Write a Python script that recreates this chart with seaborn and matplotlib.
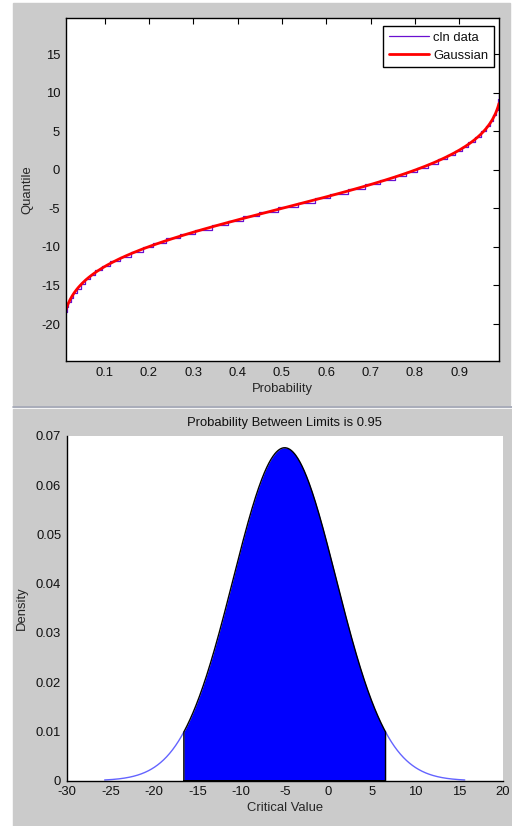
import numpy as np
import matplotlib
matplotlib.use("Agg")
import matplotlib.pyplot as plt
from matplotlib.patches import Rectangle
from matplotlib.lines import Line2D
import seaborn as sns
from statistics import NormalDist

sns.set_theme(style="white")
plt.rcParams['font.family'] = ['Liberation Sans', 'DejaVu Sans']
plt.rcParams['font.size'] = 9.4
plt.rcParams['text.color'] = '#111111'

# Empirical quantile function of the cleaned data: probability where each level starts
cln_prob = [0.0125, 0.0144, 0.0185, 0.0237, 0.0300, 0.0376, 0.0467, 0.0565,
            0.0665, 0.0790, 0.0940, 0.1120, 0.1350, 0.1600, 0.1860, 0.2100,
            0.2390, 0.2700, 0.3040, 0.3420, 0.3780, 0.4130, 0.4490, 0.4920,
            0.5370, 0.5750, 0.6090, 0.6500, 0.6880, 0.7210, 0.7540, 0.7790,
            0.8050, 0.8290, 0.8520, 0.8720, 0.8900, 0.9050, 0.9200, 0.9350,
            0.9500, 0.9595, 0.9690, 0.9766, 0.9827, 0.9862, 0.9882, 0.9892]
cln_quantile = [-18.4, -17.8, -17.2, -16.6, -16.0, -15.4, -14.8, -14.2,
                -13.65, -13.05, -12.45, -11.85, -11.25, -10.65, -10.05, -9.45,
                -8.9, -8.3, -7.75, -7.1, -6.6, -6.05, -5.45, -4.85,
                -4.25, -3.7, -3.15, -2.5, -1.9, -1.35, -0.8, -0.3,
                0.25, 0.8, 1.35, 1.9, 2.45, 3.0, 3.6, 4.3,
                5.0, 5.7, 6.4, 7.1, 7.8, 8.5, 9.2, 9.8]
prob_range = (0.0125, 0.9895)

# Fitted Gaussian
fit_mean = -5.0
fit_sd = 5.9
prob_between = 0.95

prob_ticks = [0.1, 0.2, 0.3, 0.4, 0.5, 0.6, 0.7, 0.8, 0.9]
quantile_ticks = [-20, -15, -10, -5, 0, 5, 10, 15]
value_ticks = [-30, -25, -20, -15, -10, -5, 0, 5, 10, 15, 20]
density_ticks = [0, 0.01, 0.02, 0.03, 0.04, 0.05, 0.06, 0.07]
density_ticklabels = ['0', '0.01', '0.02', '0.03', '0.04', '0.05', '0.06', '0.07']

W, H = 512, 826
fig = plt.figure(figsize=(W / 100, H / 100), dpi=100)
fig.patch.set_facecolor('white')

panel_gray = '#cbcbcb'
fig.patches.append(Rectangle((13 / W, 1 - 405 / H), (510 - 13) / W, (405 - 3) / H,
                             transform=fig.transFigure, color=panel_gray, zorder=-10))
fig.patches.append(Rectangle((13 / W, 0), (W - 13) / W, (H - 409) / H,
                             transform=fig.transFigure, color=panel_gray, zorder=-10))
fig.lines.append(Line2D([13 / W, 1], [1 - 406.5 / H] * 2, transform=fig.transFigure,
                        color='#9a9eae', lw=1.2))


def px_axes(x0, y0, x1, y1):
    return fig.add_axes([x0 / W, 1 - y1 / H, (x1 - x0) / W, (y1 - y0) / H])


# ---- Quantile plot ----
ax1 = px_axes(65.7, 18, 499, 361)
ax1.set_facecolor('white')

step_x = cln_prob + [prob_range[1]]
step_y = cln_quantile + [cln_quantile[-1]]
sns.lineplot(x=step_x, y=step_y, ax=ax1, drawstyle='steps-post', color='#6a10d0',
             lw=0.9, estimator=None, sort=False, label='cln data')

dist = NormalDist(fit_mean, fit_sd)
p_grid = np.linspace(prob_range[0], prob_range[1], 400)
q_grid = [dist.inv_cdf(p) for p in p_grid]
sns.lineplot(x=p_grid, y=q_grid, ax=ax1, color='#ff0000', lw=2,
             estimator=None, sort=False, label='Gaussian')

ax1.set_xlim(*prob_range)
ax1.set_ylim(-24.8, 19.7)
ax1.set_xticks(prob_ticks)
ax1.set_xticklabels([f'{t:g}' for t in prob_ticks])
ax1.set_yticks(quantile_ticks)
ax1.set_yticklabels([str(t) for t in quantile_ticks])
ax1.tick_params(direction='in', length=4, width=0.8, top=True, right=True,
                colors='black', labelcolor='#111111', pad=4, labelsize=9.4)
for s in ax1.spines.values():
    s.set_visible(True)
    s.set_color('black')
    s.set_linewidth(1.0)
ax1.set_xlabel('Probability', labelpad=3, fontsize=9.4)
ax1.set_ylabel('Quantile', labelpad=6, fontsize=9.4)

leg = ax1.legend(loc='upper right', bbox_to_anchor=(0.989, 0.9776), borderaxespad=0,
                 frameon=True, fancybox=False, framealpha=1, edgecolor='black',
                 handlelength=3.1, handletextpad=0.3, labelspacing=0.44,
                 borderpad=0.45, fontsize=9.4)
leg.get_frame().set_linewidth(1.0)

# ---- Density with central probability region ----
ax2 = px_axes(66.7, 436, 502.7, 780.7)
ax2.set_facecolor('white')

z = NormalDist().inv_cdf(0.5 + prob_between / 2)
lo, hi = fit_mean - z * fit_sd, fit_mean + z * fit_sd
x_all = np.linspace(fit_mean - 3.5 * fit_sd, fit_mean + 3.5 * fit_sd, 600)
y_all = np.array([dist.pdf(v) for v in x_all])

left = x_all <= lo
right = x_all >= hi
sns.lineplot(x=np.append(x_all[left], lo), y=np.append(y_all[left], dist.pdf(lo)),
             ax=ax2, color='#6464ff', lw=1.0, estimator=None, sort=False)
sns.lineplot(x=np.insert(x_all[right], 0, hi), y=np.insert(y_all[right], 0, dist.pdf(hi)),
             ax=ax2, color='#6464ff', lw=1.0, estimator=None, sort=False)

x_mid = np.linspace(lo, hi, 400)
y_mid = np.array([dist.pdf(v) for v in x_mid])
ax2.fill_between(x_mid, 0, y_mid, color='#0000ff', lw=0, zorder=2)
outline_x = np.concatenate([[lo], x_mid, [hi, lo]])
outline_y = np.concatenate([[0], y_mid, [0, 0]])
sns.lineplot(x=outline_x, y=outline_y, ax=ax2, color='black', lw=1.0,
             estimator=None, sort=False, zorder=3)

ax2.set_xlim(-30, 20)
ax2.set_ylim(0, 0.07)
ax2.set_xticks(value_ticks)
ax2.set_xticklabels([str(t) for t in value_ticks])
ax2.set_yticks(density_ticks)
ax2.set_yticklabels(density_ticklabels)
ax2.tick_params(direction='in', length=4, width=0.8, colors='black',
                labelcolor='#111111', pad=4, labelsize=9.4)
ax2.spines['top'].set_visible(False)
ax2.spines['right'].set_visible(False)
for s in ('left', 'bottom'):
    ax2.spines[s].set_color('black')
    ax2.spines[s].set_linewidth(1.0)
ax2.set_xlabel('Critical Value', labelpad=3, fontsize=9.4)
ax2.set_ylabel('Density', labelpad=6, fontsize=9.4)
ax2.set_title(f'Probability Between Limits is {prob_between:g}', pad=7, fontsize=9.4)

fig.savefig('out.png', dpi=100, facecolor=fig.get_facecolor())
